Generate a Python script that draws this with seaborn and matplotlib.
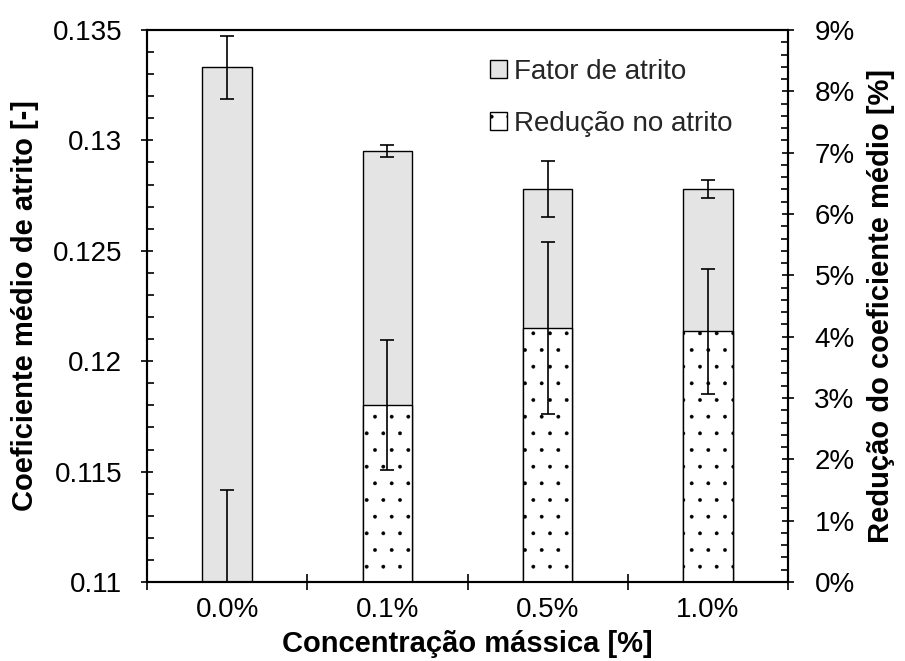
import matplotlib
matplotlib.use("Agg")
import matplotlib.pyplot as plt
import seaborn as sns
import numpy as np
import pandas as pd
from matplotlib.patches import Patch
from matplotlib.ticker import MultipleLocator, FuncFormatter, PercentFormatter, FixedLocator, NullFormatter

# ---- data ----
categorias = ["0.0%", "0.1%", "0.5%", "1.0%"]
fator_atrito = [0.13331, 0.12952, 0.12781, 0.12781]
fator_erro = [0.00142, 0.00028, 0.00127, 0.00040]
reducao = [0.0, 2.89, 4.14, 4.09]          # %
reducao_erro = [1.50, 1.06, 1.40, 1.02]    # %
legenda = ["Fator de atrito", "Redução no atrito"]

sns.set_theme(style="ticks")
plt.rcParams["font.family"] = ["Liberation Sans", "DejaVu Sans"]
plt.rcParams["hatch.color"] = "black"
plt.rcParams["hatch.linewidth"] = 0.3

FS = 20
LFS = 21
fig = plt.figure(figsize=(9.05, 6.61), dpi=100)
ax = fig.add_axes([147 / 905, 1 - 582 / 661, (788 - 147) / 905, (582 - 30) / 661])

df1 = pd.DataFrame({"cat": categorias, "val": fator_atrito})
sns.barplot(data=df1, x="cat", y="val", ax=ax, color="#e4e4e4", saturation=1,
            edgecolor="black", linewidth=1.0, width=0.31, errorbar=None, zorder=2)
ax.errorbar(np.arange(len(categorias)), fator_atrito, yerr=fator_erro, fmt="none",
            ecolor="black", elinewidth=1.2, capsize=5, capthick=1.2, zorder=3)

ax2 = ax.twinx()
df2 = pd.DataFrame({"cat": categorias, "val": reducao})
sns.barplot(data=df2, x="cat", y="val", ax=ax2, color="white", saturation=1,
            edgecolor="black", linewidth=1.0, width=0.31, errorbar=None, hatch=".", zorder=2)
ax2.errorbar(np.arange(len(categorias)), reducao, yerr=reducao_erro, fmt="none",
             ecolor="black", elinewidth=1.2, capsize=5, capthick=1.2, zorder=3)

# ---- axes ----
ax.set_ylim(0.11, 0.135)
ax2.set_ylim(0, 9)
ax.set_xlim(-0.5, len(categorias) - 0.5)

ax.yaxis.set_major_locator(MultipleLocator(0.005))
ax.yaxis.set_minor_locator(MultipleLocator(0.001))
ax.yaxis.set_major_formatter(FuncFormatter(lambda v, p: f"{v:g}"))
ax2.yaxis.set_major_locator(MultipleLocator(1))
ax2.yaxis.set_minor_locator(MultipleLocator(0.2))
ax2.yaxis.set_major_formatter(PercentFormatter(decimals=0))

ax.xaxis.set_major_locator(FixedLocator(np.arange(-0.5, len(categorias), 1.0)))
ax.xaxis.set_major_formatter(NullFormatter())
ax.xaxis.set_minor_locator(FixedLocator(np.arange(len(categorias))))
ax.xaxis.set_minor_formatter(FuncFormatter(lambda v, p: categorias[int(round(v))]))

ax.tick_params(axis="x", which="major", direction="inout", length=12, width=1.2, color="black")
ax.tick_params(axis="x", which="minor", length=0, pad=11, labelsize=FS, labelcolor="black")
ax.tick_params(axis="y", which="major", direction="inout", length=8, width=1.2, pad=14,
               labelsize=FS, color="black", labelcolor="black")
ax.tick_params(axis="y", which="minor", direction="in", length=5, width=1.2, color="black")
ax2.tick_params(axis="y", which="major", direction="inout", length=8, width=1.2, pad=15,
                labelsize=FS, color="black", labelcolor="black")
ax2.tick_params(axis="y", which="minor", direction="in", length=5, width=1.2, color="black")

for a in (ax, ax2):
    for s in a.spines.values():
        s.set_visible(True)
        s.set_color("black")
        s.set_linewidth(1.5)

ax.set_xlabel("Concentração mássica [%]", fontsize=LFS, fontweight="bold", color="black", va="center")
ax.set_ylabel("Coeficiente médio de atrito [-]", fontsize=LFS, fontweight="bold", color="black", va="center")
ax2.set_ylabel("Redução do coeficiente médio [%]", fontsize=LFS, fontweight="bold", color="black", va="center")
ax.xaxis.set_label_coords(0.5, -0.112)
ax.yaxis.set_label_coords(-0.19, 0.5)
ax2.yaxis.set_label_coords(1.145, 0.5)

handles = [Patch(facecolor="#e4e4e4", edgecolor="black", linewidth=1.0),
           Patch(facecolor="white", edgecolor="black", linewidth=1.0, hatch=".")]
ax2.legend(handles, legenda, loc="upper left", bbox_to_anchor=(0.535, 0.948),
           frameon=False, fontsize=FS, handlelength=0.6, handleheight=0.6,
           handletextpad=0.25, labelspacing=0.95, borderpad=0, borderaxespad=0)

fig.savefig("out.png", dpi=100)
